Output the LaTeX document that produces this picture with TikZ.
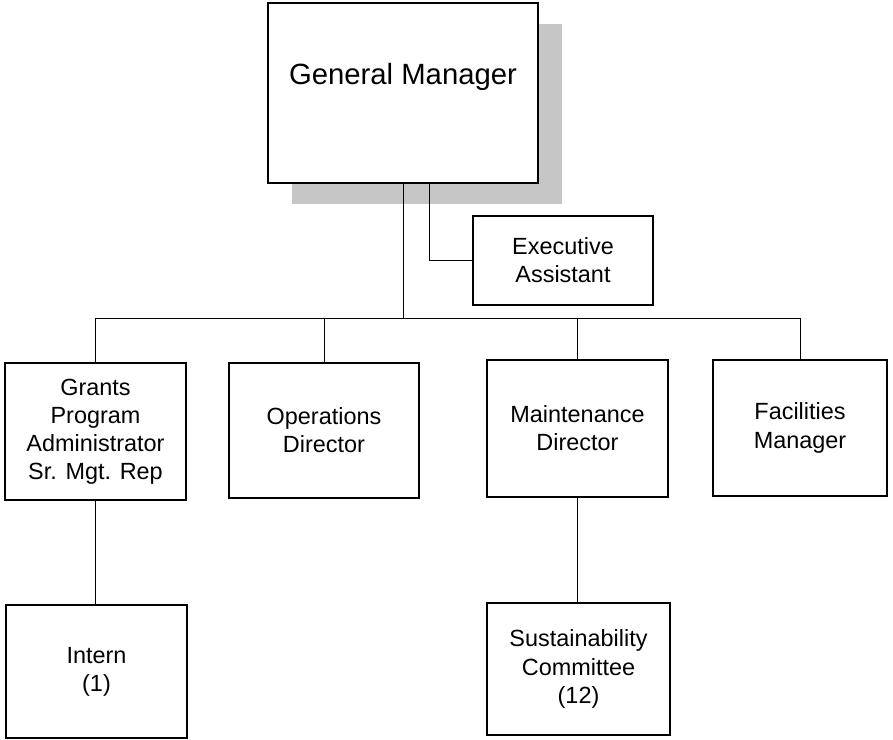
\documentclass[tikz,border=0pt]{standalone}
\usepackage{fontspec}
\setmainfont{Liberation Sans}
\usetikzlibrary{shadows}

\tikzset{
  post/.style={draw=black, line width=1.3pt, fill=white, align=center,
    font=\fontsize{20}{24}\selectfont},
  link/.style={draw=black, line width=0.6pt}
}

\begin{document}
\begin{tikzpicture}
  \useasboundingbox (0,0) rectangle (26.79,22.2);

  % top of the chart
  \node[post, minimum width=8.1cm, minimum height=5.4cm,
    drop shadow={shadow xshift=0.72cm, shadow yshift=-0.63cm, fill=gray!45, opacity=1}]
    (gm) at (12.09,19.41) {};
  \node[font=\fontsize{25}{30}\selectfont] (gmtext) at ([yshift=0.48cm]gm.center) {General Manager};
  \node[post, minimum width=5.4cm, minimum height=2.67cm] (ea) at (16.89,14.385) {Executive\\Assistant};

  % directors
  \node[post, minimum width=5.43cm, minimum height=4.11cm] (grants) at (2.865,9.255)
    {Grants\\Program\\Administrator\\Sr. Mgt. Rep};
  \node[post, minimum width=5.7cm, minimum height=4.05cm] (ops) at (9.72,9.285)
    {Operations\\Director};
  \node[post, minimum width=5.43cm, minimum height=4.11cm] (maint) at (17.325,9.345)
    {Maintenance\\Director};
  \node[post, minimum width=5.22cm, minimum height=4.08cm] (fac) at (24.0,9.36)
    {Facilities\\Manager};

  % bottom row
  \node[post, minimum width=5.43cm, minimum height=3.99cm] (intern) at (2.895,2.055)
    {Intern\\(1)};
  \node[post, minimum width=5.49cm, minimum height=3.96cm] (sust) at (17.355,2.13)
    {Sustainability\\Committee\\(12)};

  % connectors
  \coordinate (bus) at (gm.south |- 0,12.66);
  \draw[link] (gm.south) -- (bus);
  \draw[link] ([xshift=0.78cm]gm.south) |- (ea.west);
  \foreach \n in {grants,ops,maint,fac}
    \draw[link] (bus) -| (\n.north);
  \draw[link] (grants.south) -- (grants.south |- intern.north);
  \draw[link] (maint.south) -- (maint.south |- sust.north);
\end{tikzpicture}
\end{document}
